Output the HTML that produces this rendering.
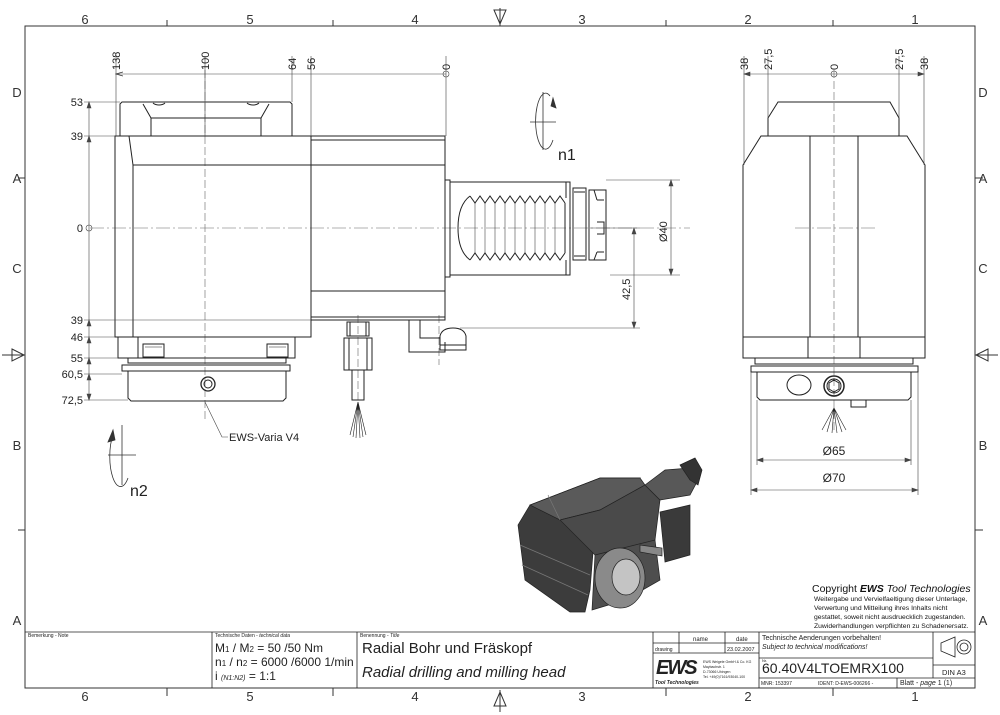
<!DOCTYPE html>
<html><head><meta charset="utf-8"><style>
html,body{margin:0;padding:0;background:#fff;}
svg{display:block;font-family:"Liberation Sans Narrow","Liberation Sans",sans-serif;}
</style></head><body>
<svg width="1000" height="715" viewBox="0 0 1000 715" xmlns="http://www.w3.org/2000/svg">
<defs>
<marker id="ar" markerWidth="8" markerHeight="6" refX="7" refY="3" orient="auto-start-reverse" markerUnits="userSpaceOnUse"><path d="M0,1 L7,3 L0,5" fill="none" stroke="#333" stroke-width="0.8"/></marker>
</defs>
<rect width="1000" height="715" fill="#fff"/>
<g stroke="#333" stroke-width="1" fill="none">
<rect x="25" y="26" width="950" height="662"/>
<path d="M167,20V26 M333,20V26 M666,20V26 M833,20V26 M167,688V696 M333,688V696 M666,688V696 M833,688V696"/>
<path d="M18,178H25 M18,530H25 M975,178H983 M975,530H983"/>
<path d="M500,8V26 M494,10 L500,24 L506,10Z M500,690V712 M494,706 L500,692 L506,706Z"/>
<path d="M2,355H25 M12,349 L24,355 L12,361Z M975,355H998 M988,349 L976,355 L988,361Z"/>
</g>
<g font-size="13" fill="#333" text-anchor="middle" font-family="Liberation Sans, sans-serif">
<text x="85" y="24">6</text><text x="250" y="24">5</text><text x="415" y="24">4</text><text x="582" y="24">3</text><text x="748" y="24">2</text><text x="915" y="24">1</text>
<text x="85" y="701">6</text><text x="250" y="701">5</text><text x="415" y="701">4</text><text x="582" y="701">3</text><text x="748" y="701">2</text><text x="915" y="701">1</text>
<text x="17" y="97">D</text><text x="17" y="183">A</text><text x="17" y="273">C</text><text x="17" y="450">B</text><text x="17" y="625">A</text>
<text x="983" y="97">D</text><text x="983" y="183">A</text><text x="983" y="273">C</text><text x="983" y="450">B</text><text x="983" y="625">A</text>
</g>

<g stroke="#222" stroke-width="1" fill="none">
<path d="M90,228H690" stroke="#666" stroke-width="0.6" stroke-dasharray="14,3,2,3"/>
<path d="M205,70V420" stroke="#666" stroke-width="0.6" stroke-dasharray="8,3"/>
<path d="M358,315V410 M439,315V365" stroke="#666" stroke-width="0.6" stroke-dasharray="8,3"/>
<path d="M120,136V104 L122,102 H290 L292,104 V136"/>
<path d="M151,136V118 H261 V136 M151,118 L143,104 M261,118 L269,104"/>
<path d="M153,103 A8,6 0 0 0 165,103 M247,103 A8,6 0 0 0 259,103"/>
<path d="M115,136H311V337H115Z"/>
<path d="M129,136 L133,165 V337 M133,165H311"/>
<path d="M311,136H445V320H311 M311,140H445 M311,165H445 M311,291H445 M311,317H445"/>
<path d="M118,337V358H295V337 M138,337V358"/>
<rect x="143" y="344" width="21" height="13"/><rect x="267" y="344" width="21" height="13"/>
<path d="M145,347H162 M269,347H286" stroke-width="0.6"/>
<path d="M128,358V363 H286 V358 M122,365H290V371H122Z"/>
<path d="M128,371V398 L131,401 H283 L286,398 V371"/>
<circle cx="208" cy="384" r="7" stroke-width="1.3"/><circle cx="208" cy="384" r="4"/>
<path d="M445,180H450V277H445 M450,182H570V275H450Z M566,182V198 M566,260V275"/>
<path d="M573,188H586V260H573Z M574,192H585 M574,256H585"/>
<path d="M589,190H606V260H589Z M597,200H604 M597,222H604V234H597 M597,252H604 M594,190 L597,200 M594,260 L597,252"/>
<path d="M470,196 475,203 480,196 485,203 490,196 495,203 500,196 505,203 510,196 515,203 520,196 525,203 530,196 535,203 540,196 545,203 550,196 555,203 560,196 565,203 M470,260 475,253 480,260 485,253 490,260 495,253 500,260 505,253 510,260 515,253 520,260 525,253 530,260 535,253 540,260 545,253 550,260 555,253 560,260 565,253"/>
<path d="M470,196 Q458,205 458,228 Q458,251 470,260 M565,203V253"/>
<path d="M475,203V253 M485,203V253 M495,203V253 M505,203V253 M515,203V253 M525,203V253 M535,203V253 M545,203V253 M555,203V253" stroke-width="0.5"/>
<path d="M409,320V352 H445 V342 M420,320V338 H440"/>
<path d="M440,350V336 Q442,328 453,328 Q464,328 466,336 V350Z M440,345H466"/>
<path d="M347,322H369V336H347Z M350,322V336 M366,322V336"/>
<path d="M344,338H372V370H344Z M349,338V370 M367,338V370"/>
<path d="M352,370H364V400H352Z"/>
<path d="M358,402 L350,435 M358,402 L353,437 M358,402 L356,438 M358,402 L360,438 M358,402 L363,437 M358,402 L366,435" stroke-width="0.6"/>
</g>
<g stroke="#444" stroke-width="0.6" fill="none">
<path d="M116,74H446" marker-start="url(#ar)"/>
<path d="M116,56V136 M205,56V136 M292,56V102 M311,56V136 M446,56V136"/>
<circle cx="446" cy="74" r="3"/>
<path d="M89,102V400" />
<path d="M84,102H120 M84,136H115 M84,320H311 M84,337H115 M84,358H118 M84,374H122 M84,400H128"/>
<circle cx="89" cy="228" r="3"/>
<path d="M89,102 l-2,6 h4z M89,136 l-2,6 h4z M89,320 l-2,6 h4z M89,337 l-2,6 h4z M89,358 l-2,6 h4z M89,374 l-2,6 h4z M89,400 l-2,-6 h4z" fill="#444"/>
<path d="M205,402 L222,437 H228"/>
<path d="M634,228V328 M590,228H640 M460,328H640 M671,180V275 M606,180H680 M610,275H680"/>
<path d="M634,228 l-2,6 h4z M634,328 l-2,-6 h4z M671,180 l-2,6 h4z M671,275 l-2,-6 h4z" fill="#444"/>
</g>
<g font-size="11" fill="#222">
<g text-anchor="end"><text x="83" y="106">53</text><text x="83" y="140">39</text><text x="83" y="232">0</text><text x="83" y="324">39</text><text x="83" y="341">46</text><text x="83" y="362">55</text><text x="83" y="378">60,5</text><text x="83" y="404">72,5</text></g>
<text transform="translate(120,70) rotate(-90)">138</text>
<text transform="translate(209,70) rotate(-90)">100</text>
<text transform="translate(296,70) rotate(-90)">64</text>
<text transform="translate(315,70) rotate(-90)">56</text>
<text transform="translate(450,70) rotate(-90)">0</text>
<text transform="translate(630,300) rotate(-90)">42,5</text>
<text transform="translate(667,242) rotate(-90)">Ø40</text>
<text x="229" y="441">EWS-Varia V4</text>
</g>
<g stroke="#333" stroke-width="0.8" fill="none">
<path d="M543,92V150 M530,122H556"/>
<path d="M550,96 A10,28 0 1 0 553,140"/>
<path d="M556,108 L553,98 L551,106Z" fill="#333"/>
<path d="M122,425V485 M108,455H136"/>
<path d="M113,435 A10,28 0 1 0 128,478"/>
<path d="M108,442 L113,430 L115,440Z" fill="#333"/>
</g>
<text x="558" y="160" font-size="16" fill="#222" font-family="Liberation Sans, sans-serif">n1</text>
<text x="130" y="496" font-size="16" fill="#222" font-family="Liberation Sans, sans-serif">n2</text>

<g stroke="#222" stroke-width="1" fill="none">
<path d="M834,70V430" stroke="#666" stroke-width="0.6" stroke-dasharray="8,3"/>
<path d="M795,228H878" stroke="#666" stroke-width="0.6" stroke-dasharray="14,3,2,3"/>
<path d="M768,136V118 L778,102 H890 L899,118 V136"/>
<path d="M761,136H907 L925,165 V358 H743 V165Z M743,337H925"/>
<path d="M810,136V337 M858,136V337 M808,337V358 M860,337V358"/>
<path d="M755,358V364 H913 V358 M751,366H918V372H751Z M757,372V397 L760,400 H908 L911,397 V372"/>
<ellipse cx="799" cy="385" rx="12" ry="10"/>
<circle cx="834" cy="386" r="10" stroke-width="1.5"/><circle cx="834" cy="386" r="7"/>
<path d="M834,380 l5,3 v6 l-5,3 l-5,-3 v-6z"/>
<rect x="851" y="400" width="15" height="7"/>
<path d="M834,408 L822,430 M834,408 L827,432 M834,408 L832,433 M834,408 L837,433 M834,408 L842,432 M834,408 L846,430" stroke-width="0.6"/>
</g>
<g stroke="#444" stroke-width="0.6" fill="none">
<path d="M744,74H924"/>
<path d="M744,56V165 M768,56V118 M899,56V118 M924,56V165"/>
<circle cx="834" cy="74" r="3"/>
<path d="M757,400V465 M911,400V465 M751,372V495 M918,372V495"/>
<path d="M757,460H911 M751,490H918"/>
<path d="M757,460 l6,-2 v4z M911,460 l-6,-2 v4z M751,490 l6,-2 v4z M918,490 l-6,-2 v4z M744,74 l6,-2 v4z M924,74 l-6,-2 v4z" fill="#444"/>
</g>
<g font-size="11" fill="#222">
<text transform="translate(748,70) rotate(-90)">38</text>
<text transform="translate(772,70) rotate(-90)">27,5</text>
<text transform="translate(838,70) rotate(-90)">0</text>
<text transform="translate(903,70) rotate(-90)">27,5</text>
<text transform="translate(928,70) rotate(-90)">38</text>
<text x="834" y="455" text-anchor="middle" font-size="12">Ø65</text>
<text x="834" y="482" text-anchor="middle" font-size="12">Ø70</text>
</g>

<!-- 3D render -->
<g stroke="#222" stroke-width="0.7">
<polygon points="518,525 530,505 600,478 640,478 596,515 590,590 585,612 570,612 525,580" fill="#3c3c3c"/>
<polygon points="530,505 600,478 640,478 645,485 600,510 560,520" fill="#5a5a5a"/>
<polygon points="560,520 600,510 645,485 660,500 655,540 600,560 595,555" fill="#4a4a4a"/>
<polygon points="645,485 665,470 690,468 698,480 690,495 660,500" fill="#585858"/>
<polygon points="680,465 695,458 702,470 698,485 690,480" fill="#333"/>
<polygon points="660,512 690,505 690,555 665,562" fill="#3a3a3a"/>
<polygon points="595,555 655,540 660,580 625,600 592,610" fill="#4e4e4e"/>
<path d="M520,545 L590,575 M522,565 L588,595 M548,495 L560,520" stroke="#777" fill="none"/>
<ellipse cx="620" cy="578" rx="25" ry="30" fill="#8a8a8a"/>
<ellipse cx="626" cy="577" rx="14" ry="18" fill="#c4c4c4"/>
<path d="M640,545 L662,548 V556 L640,552Z" fill="#888"/>
</g>

<g fill="#111" font-family="Liberation Sans, sans-serif">
<text x="812" y="592" font-size="10.5">Copyright <tspan font-weight="bold" font-style="italic">EWS</tspan> <tspan font-style="italic">Tool Technologies</tspan></text>
<text x="814" y="601" font-size="6.8">Weitergabe und Vervielfaeltigung dieser Unterlage,</text>
<text x="814" y="610" font-size="6.8">Verwertung und Mitteilung ihres Inhalts nicht</text>
<text x="814" y="619" font-size="6.8">gestattet, soweit nicht ausdruecklich zugestanden.</text>
<text x="814" y="628" font-size="6.8">Zuwiderhandlungen verpflichten zu Schadenersatz.</text>
</g>

<g stroke="#222" stroke-width="0.8" fill="none">
<path d="M25,632H975 M212,632V688 M357,632V688 M653,632V688 M759,632V688 M933,632V678"/>
<path d="M653,643H759 M653,653H759 M679,632V653 M725,632V653 M759,658H933 M933,665H975 M759,678H975 M897,678V688"/>
<path d="M941,643 L955,637 V657 L941,651Z"/>
<circle cx="964" cy="647" r="7"/><circle cx="964" cy="647" r="4"/>
</g>
<g fill="#222">
<text x="28" y="637" font-size="5">Bemerkung - Note</text>
<text x="215" y="637" font-size="5">Technische Daten - <tspan font-style="italic">technical data</tspan></text>
<text x="360" y="637" font-size="5">Benennung - <tspan font-style="italic">Title</tspan></text>
<text x="215" y="652" font-size="12">M<tspan font-size="8">1</tspan> / M<tspan font-size="8">2</tspan> = 50  /50  Nm</text>
<text x="215" y="666" font-size="12">n<tspan font-size="8">1</tspan> / n<tspan font-size="8">2</tspan> = 6000 /6000  1/min</text>
<text x="215" y="680" font-size="12">i  <tspan font-size="7" font-style="italic">(N1:N2)</tspan> = 1:1</text>
<text x="362" y="653" font-size="15">Radial Bohr und Fräskopf</text>
<text x="362" y="677" font-size="15" font-style="italic">Radial drilling and milling head</text>
<text x="693" y="641" font-size="6">name</text><text x="736" y="641" font-size="6">date</text>
<text x="655" y="651" font-size="5">drawing</text><text x="727" y="651" font-size="5.5">23.02.2007</text>
<text x="656" y="674" font-size="20" font-weight="bold" font-style="italic" font-family="Liberation Sans, sans-serif" letter-spacing="-2">EWS</text>
<text x="655" y="684" font-size="5" font-style="italic" font-weight="bold">Tool Technologies</text>
<text x="703" y="663" font-size="3.5">EWS Weigele GmbH &amp; Co. KG</text>
<text x="703" y="668" font-size="3.5">Maybachstr. 1</text>
<text x="703" y="673" font-size="3.5">D-73066 Uhingen</text>
<text x="703" y="678" font-size="3.5">Tel. +49(0)7161/93040-100</text>
<text x="762" y="640" font-size="7">Technische Aenderungen vorbehalten!</text>
<text x="762" y="649" font-size="7" font-style="italic">Subject to technical modifications!</text>
<text x="762" y="662" font-size="4">Nr.</text>
<text x="762" y="673" font-size="14">60.40V4LTOEMRX100</text>
<text x="942" y="675" font-size="7.5">DIN A3</text>
<text x="761" y="685" font-size="5">MNR: 153397</text>
<text x="818" y="685" font-size="5">IDENT: D-EWS-006266 -</text>
<text x="900" y="685" font-size="7">Blatt - <tspan font-style="italic">page</tspan>  1 (1)</text>
</g>
</svg>
</body></html>
